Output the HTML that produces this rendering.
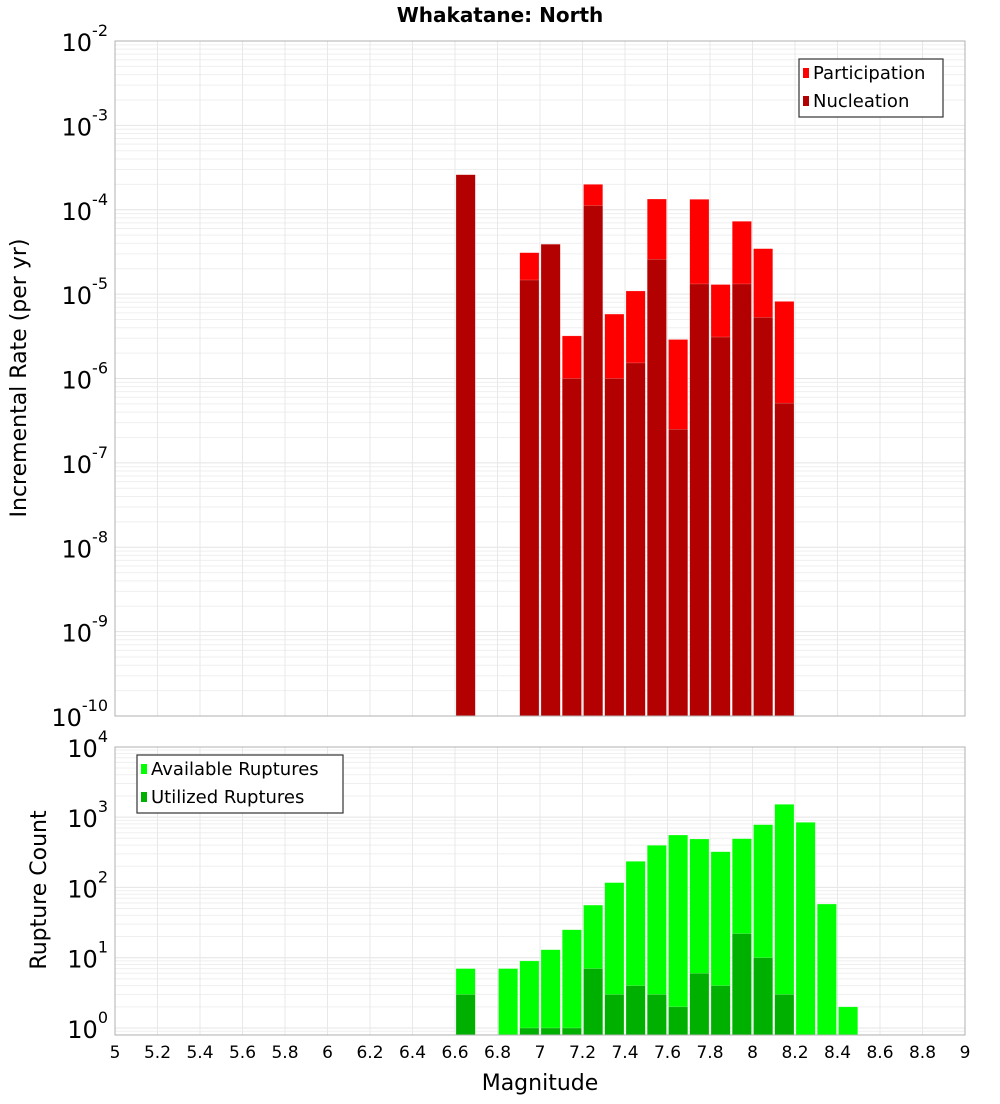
<!DOCTYPE html>
<html><head><meta charset="utf-8"><style>
body{margin:0;background:#fff;font-family:"DejaVu Sans","Liberation Sans",sans-serif}
svg text{font-family:"DejaVu Sans","Liberation Sans",sans-serif}
</style></head><body>
<svg id="c" width="1000" height="1100" xmlns="http://www.w3.org/2000/svg">
<rect width="1000" height="1100" fill="#fff"/>
<text x="500" y="22" text-anchor="middle" font-size="20" font-weight="bold">Whakatane: North</text>
<g id="topPlot"></g>
<g id="botPlot"></g>
<text transform="translate(26,378) rotate(-90)" text-anchor="middle" font-size="22">Incremental Rate (per yr)</text>
<text transform="translate(46,890) rotate(-90)" text-anchor="middle" font-size="22">Rupture Count</text>
<text x="540" y="1090" text-anchor="middle" font-size="22">Magnitude</text>
</svg>
<script>
const magBins=[6.6,6.9,7.0,7.1,7.2,7.3,7.4,7.5,7.6,7.7,7.8,7.9,8.0,8.1];
const participation=[2.6e-4,3.1e-5,3.9e-5,3.2e-6,2.0e-4,5.8e-6,1.09e-5,1.34e-4,2.9e-6,1.33e-4,1.3e-5,7.3e-5,3.46e-5,8.2e-6];
const nucleation=[2.6e-4,1.47e-5,3.9e-5,1.0e-6,1.12e-4,1.0e-6,1.53e-6,2.58e-5,2.5e-7,1.32e-5,3.1e-6,1.32e-5,5.3e-6,5.1e-7];
const countBins=[6.6,6.8,6.9,7.0,7.1,7.2,7.3,7.4,7.5,7.6,7.7,7.8,7.9,8.0,8.1,8.2,8.3,8.4];
const available=[7,7,9,13,25,56,117,235,397,556,488,322,493,780,1520,843,58,2];
const utilized=[3,0,1,1,1,7,3,4,3,2,6,4,22,10,3,0,0,0];
const xTicks=[5,5.2,5.4,5.6,5.8,6,6.2,6.4,6.6,6.8,7,7.2,7.4,7.6,7.8,8,8.2,8.4,8.6,8.8,9];
const topExps=[-2,-3,-4,-5,-6,-7,-8,-9,-10];
const botExps=[4,3,2,1,0];

const NS="http://www.w3.org/2000/svg";
const X0=115,X1=965;
const xs=m=>X0+(m-5)/4*(X1-X0);
const yTop=v=>41+(-2-Math.log10(v))*84.375;
const yBot=v=>1028-Math.log10(v)*70.3;
function mk(p,t,a){const e=document.createElementNS(NS,t);for(const k in a)e.setAttribute(k,a[k]);p.appendChild(e);return e;}

function frame(g,t0,b0,ys,lo,hi,name){
  mk(g,'rect',{x:X0,y:t0,width:X1-X0,height:b0-t0,fill:'#fff'});
  for(let e=lo;e<hi;e++)for(let k=1;k<10;k++){const y=ys(k*Math.pow(10,e));if(y<t0||y>b0)continue;
    const l=mk(g,'line',{x1:X0,x2:X1,y1:y,y2:y,stroke:k==1?'#e4e4e4':'#efefef','stroke-width':1});
    
    }
  xTicks.forEach(t=>{const x=xs(t);const l=mk(g,'line',{x1:x,x2:x,y1:t0,y2:b0,stroke:'#e8e8e8'});
    
    });
}
function border(g,t0,b0){mk(g,'rect',{x:X0,y:t0,width:X1-X0,height:b0-t0,fill:'none',stroke:'#b0b0b0'});}
function bar(g,m,v,ys,b0,fill,name){
  if(v<=0)return;const y=ys(v);
  const r=mk(g,'rect',{x:xs(m)+1,y:y,width:xs(m+0.1)-xs(m)-2,height:b0-y,fill:fill,stroke:'#ffffff','stroke-opacity':0.4,'stroke-width':0.5});
  
  
}
function ylab(p,y,e,name){
  const t=mk(p,'text',{x:108,y:y+10,'text-anchor':'end','font-size':24});
  
  
  t.textContent='10';
  const s=mk(t,'tspan',{dy:-15,'font-size':16});s.textContent=String(e);
}

const gTop=document.getElementById('topPlot');
frame(gTop,41,716,yTop,-10,-2,'top');
magBins.forEach((m,i)=>bar(gTop,m,participation[i],yTop,716,'#ff0000','participation-bar'));
magBins.forEach((m,i)=>bar(gTop,m,nucleation[i],yTop,716,'#b30000','nucleation-bar'));
border(gTop,41,716);
topExps.forEach(e=>ylab(gTop,yTop(Math.pow(10,e)),e,'top-y-tick-label'));

const gBot=document.getElementById('botPlot');
frame(gBot,747,1035,yBot,-1,4,'bottom');
countBins.forEach((m,i)=>bar(gBot,m,available[i],yBot,1035,'#00ff00','available-bar'));
countBins.forEach((m,i)=>bar(gBot,m,utilized[i],yBot,1035,'#00b000','utilized-bar'));
border(gBot,747,1035);
botExps.forEach(e=>ylab(gBot,yBot(Math.pow(10,e)),e,'bottom-y-tick-label'));

xTicks.forEach(t=>{const e=mk(gBot,'text',{x:xs(t),y:1058,'text-anchor':'middle','font-size':17});
  
  
  e.textContent=String(t);});

function legend(g,x,y,w,items,name){
  const lg=mk(g,'g',{});
  
  
  mk(lg,'rect',{x:x,y:y,width:w,height:58,fill:'#fff',stroke:'#333','stroke-width':1.2});
  items.forEach((it,i)=>{const cy=y+14+i*28;
    mk(lg,'rect',{x:x+4,y:cy-5,width:6,height:10,fill:it[1]});
    const t=mk(lg,'text',{x:x+14,y:cy+6,'font-size':18});t.textContent=it[0];
    
    });
}
legend(gTop,799,59,144,[['Participation','#ff0000'],['Nucleation','#b30000']],'top-legend');
legend(gBot,137,755,206,[['Available Ruptures','#00ff00'],['Utilized Ruptures','#00b000']],'bottom-legend');
</script>
</body></html>
